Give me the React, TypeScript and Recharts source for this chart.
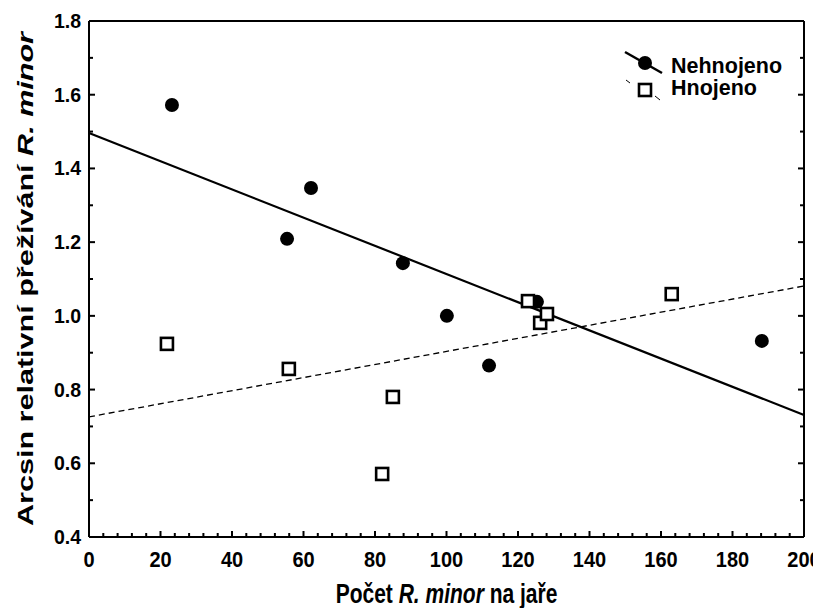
import { ReferenceLine, Scatter, ScatterChart, XAxis, YAxis } from 'recharts';

// Nehnojeno (filled circles)
const nehnojenoX = [23.2, 55.4, 62.1, 87.8, 100.1, 111.9, 125.3, 188.2];
const nehnojenoY = [1.572, 1.209, 1.347, 1.143, 1.0, 0.865, 1.038, 0.932];
// Hnojeno (open squares)
const hnojenoX = [21.8, 55.9, 82.0, 85.0, 122.8, 126.2, 128.1, 163.0];
const hnojenoY = [0.924, 0.856, 0.571, 0.78, 1.04, 0.981, 1.005, 1.059];
// regression lines, value at x = 0 and x = 200
const fitX = [0, 200];
const fitNehnojeno = [1.496, 0.731];
const fitHnojeno = [0.726, 1.081];

const xMajor = [0, 20, 40, 60, 80, 100, 120, 140, 160, 180, 200];
const yMajor = [0.4, 0.6, 0.8, 1.0, 1.2, 1.4, 1.6, 1.8];
const xMinor = Array.from({ length: 51 }, (_, i) => i * 4);
const yMinor = Array.from({ length: 15 }, (_, i) => Math.round((0.4 + i * 0.1) * 10) / 10);

const FONT = '"Liberation Sans", Arial, sans-serif';

const nehnojeno = nehnojenoX.map((x, i) => ({ x, y: nehnojenoY[i] }));
const hnojeno = hnojenoX.map((x, i) => ({ x, y: hnojenoY[i] }));

const isMajorX = (v: number) => xMajor.includes(v);
const isMajorY = (v: number) => yMajor.some((m) => Math.abs(m - v) < 1e-6);

function BottomTick({ x, y, payload }: any) {
    const major = isMajorX(payload.value);
    return (
        <g>
            <path d={`M${x},${y}V${y - (major ? 6 : 4)}`} stroke="#000" strokeWidth={2} fill="none" />
            {major ? (
                <text
                    transform={`translate(${x},${y + 30}) scale(1,1.08)`}
                    textAnchor="middle"
                    fontFamily={FONT}
                    fontWeight="bold"
                    fontSize={20}
                    fill="#000"
                >
                    {payload.value}
                </text>
            ) : null}
        </g>
    );
}

function TopTick({ x, y, payload }: any) {
    const major = isMajorX(payload.value);
    return <path d={`M${x},${y}V${y + (major ? 6 : 4)}`} stroke="#000" strokeWidth={2} fill="none" />;
}

function LeftTick({ x, y, payload }: any) {
    const major = isMajorY(payload.value);
    return (
        <g>
            <path d={`M${x},${y}H${x + (major ? 6 : 4)}`} stroke="#000" strokeWidth={2} fill="none" />
            {major ? (
                <text x={x - 8} y={y + 7} textAnchor="end" fontFamily={FONT} fontWeight="bold" fontSize={19.5} fill="#000">
                    {payload.value.toFixed(1)}
                </text>
            ) : null}
        </g>
    );
}

function RightTick({ x, y, payload }: any) {
    const major = isMajorY(payload.value);
    return <path d={`M${x},${y}H${x - (major ? 6 : 4)}`} stroke="#000" strokeWidth={2} fill="none" />;
}

function Dot({ cx, cy }: any) {
    return <circle cx={cx} cy={cy} r={7} fill="#000" />;
}

function Square({ cx, cy }: any) {
    return <rect x={cx - 6} y={cy - 6} width={12} height={12} fill="#fff" stroke="#000" strokeWidth={2.6} />;
}

function YTitle({ viewBox }: any) {
    const cx = viewBox.x + 25;
    const cy = 271;
    return (
        <text
            x={cx}
            y={cy}
            transform={`rotate(-90 ${cx} ${cy})`}
            textAnchor="middle"
            fontFamily={FONT}
            fontWeight="bold"
            fontSize={22}
            textLength={494}
            lengthAdjust="spacingAndGlyphs"
            fill="#000"
        >
            Arcsin relativní přežívání <tspan fontStyle="italic">R. minor</tspan>
        </text>
    );
}

function XTitle({ viewBox }: any) {
    const cx = viewBox.x + viewBox.width / 2;
    return (
        <text
            transform={`translate(${cx},595) scale(1,1.3)`}
            textAnchor="middle"
            fontFamily={FONT}
            fontWeight="bold"
            fontSize={21}
            fill="#000"
        >
            Počet <tspan fontStyle="italic">R. minor</tspan> na jaře
        </text>
    );
}

export default function App() {
    return (
        <div style={{ position: 'relative', width: 813, height: 600 }}>
            <ScatterChart width={813} height={600} margin={{ top: 0, right: 0, bottom: 0, left: 0 }}>
                <XAxis
                    xAxisId="bottom"
                    type="number"
                    dataKey="x"
                    domain={[0, 200]}
                    ticks={xMinor}
                    interval={0}
                    height={71}
                    tickSize={0}
                    tickMargin={0}
                    tickLine={false}
                    axisLine={{ stroke: '#000', strokeWidth: 2 }}
                    tick={<BottomTick />}
                    allowDataOverflow
                    label={<XTitle />}
                />
                <XAxis
                    xAxisId="top"
                    orientation="top"
                    type="number"
                    domain={[0, 200]}
                    ticks={xMinor}
                    interval={0}
                    height={13}
                    tickSize={0}
                    tickMargin={0}
                    tickLine={false}
                    axisLine={{ stroke: '#000', strokeWidth: 2 }}
                    tick={<TopTick />}
                    allowDataOverflow
                />
                <YAxis
                    yAxisId="left"
                    type="number"
                    dataKey="y"
                    domain={[0.4, 1.8]}
                    ticks={yMinor}
                    interval={0}
                    width={81}
                    tickSize={0}
                    tickMargin={0}
                    tickLine={false}
                    axisLine={{ stroke: '#000', strokeWidth: 2 }}
                    tick={<LeftTick />}
                    allowDataOverflow
                    label={<YTitle />}
                />
                <YAxis
                    yAxisId="right"
                    orientation="right"
                    type="number"
                    domain={[0.4, 1.8]}
                    ticks={yMinor}
                    interval={0}
                    width={17}
                    tickSize={0}
                    tickMargin={0}
                    tickLine={false}
                    axisLine={{ stroke: '#000', strokeWidth: 2 }}
                    tick={<RightTick />}
                    allowDataOverflow
                />
                <ReferenceLine
                    xAxisId="bottom"
                    yAxisId="left"
                    segment={[
                        { x: fitX[0], y: fitNehnojeno[0] },
                        { x: fitX[1], y: fitNehnojeno[1] },
                    ]}
                    stroke="#000"
                    strokeWidth={2.2}
                />
                <ReferenceLine
                    xAxisId="bottom"
                    yAxisId="left"
                    segment={[
                        { x: fitX[0], y: fitHnojeno[0] },
                        { x: fitX[1], y: fitHnojeno[1] },
                    ]}
                    stroke="#000"
                    strokeWidth={1.3}
                    strokeDasharray="6 4"
                />
                <Scatter xAxisId="bottom" yAxisId="left" data={nehnojeno} shape={<Dot />} isAnimationActive={false} />
                <Scatter xAxisId="bottom" yAxisId="left" data={hnojeno} shape={<Square />} isAnimationActive={false} />
            </ScatterChart>
            <svg
                width={200}
                height={70}
                style={{ position: 'absolute', left: 610, top: 35 }}
                fontFamily={FONT}
                fontWeight="bold"
                fontSize={21.5}
            >
                <line x1={7} y1={9} x2={44} y2={30} stroke="#000" strokeWidth={2.5} />
                <circle cx={27} cy={20} r={7} fill="#000" />
                <text x={53} y={30}>Nehnojeno</text>
                <line x1={8} y1={37} x2={12} y2={40} stroke="#000" strokeWidth={1} />
                <line x1={37} y1={53} x2={42} y2={57} stroke="#000" strokeWidth={1} />
                <rect x={21} y={41} width={12} height={12} fill="#fff" stroke="#000" strokeWidth={2.6} />
                <text x={53} y={52}>Hnojeno</text>
            </svg>
        </div>
    );
}
